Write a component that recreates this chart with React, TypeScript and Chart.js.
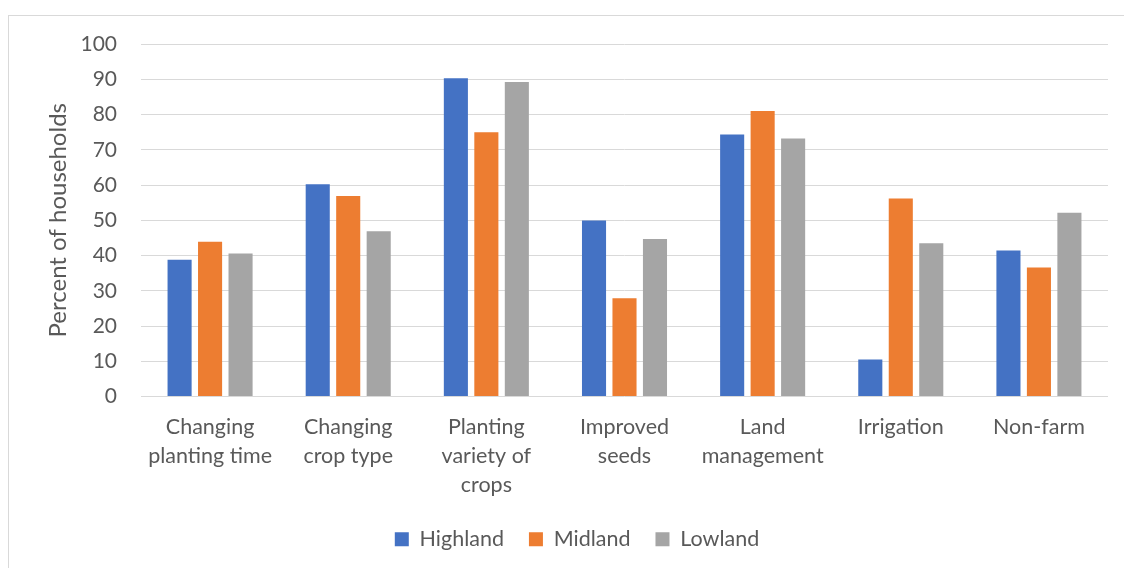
import React, { useEffect, useRef } from "react";
import { Chart, registerables } from "chart.js";

Chart.register(...registerables);

const categories: string[][] = [
  ["Changing", "planting time"],
  ["Changing", "crop type"],
  ["Planting", "variety of", "crops"],
  ["Improved", "seeds"],
  ["Land", "management"],
  ["Irrigation"],
  ["Non-farm"],
];

const highland = [38.8, 60.2, 90.3, 49.9, 74.3, 10.5, 41.4];
const midland = [43.9, 56.9, 75.0, 27.9, 81.0, 56.2, 36.6];
const lowland = [40.6, 46.9, 89.2, 44.7, 73.2, 43.5, 52.1];

const seriesNames = ["Highland", "Midland", "Lowland"];
const yTicks = { min: 0, max: 100, step: 10 };

const FONT = "Lato, 'Open Sans', sans-serif";
const TEXT = "#595959";

export default function App() {
  const ref = useRef<HTMLCanvasElement | null>(null);

  useEffect(() => {
    document.documentElement.style.overflow = "hidden";
    document.body.style.overflow = "hidden";
    document.body.style.marginRight = "0px";
    if (!ref.current) return;
    const chart = new Chart(ref.current, {
      type: "bar",
      data: {
        labels: categories,
        datasets: [
          { label: seriesNames[0], data: highland, backgroundColor: "#4472C4" },
          { label: seriesNames[1], data: midland, backgroundColor: "#ED7D31" },
          { label: seriesNames[2], data: lowland, backgroundColor: "#A5A5A5" },
        ],
      },
      options: {
        responsive: false,
        animation: false,
        maintainAspectRatio: false,
        layout: { padding: { left: 37, right: 16, top: 28, bottom: 0 } },
        datasets: {
          bar: { categoryPercentage: 0.662, barPercentage: 0.79 },
        },
        plugins: {
          tooltip: { enabled: false },
          legend: {
            position: "bottom",
            labels: {
              color: TEXT,
              font: { family: FONT, size: 21.5 },
              boxWidth: 14,
              boxHeight: 14,
              padding: 25,
            },
          },
        },
        scales: {
          x: {
            grid: { display: false, drawTicks: false },
            border: { display: false },
            ticks: {
              color: TEXT,
              font: { family: FONT, size: 21.5, lineHeight: 1.35 },
              padding: 16,
              maxRotation: 0,
              autoSkip: false,
            },
            afterFit: (s: any) => {
              s.height = 107;
            },
          },
          y: {
            min: yTicks.min,
            max: yTicks.max,
            grid: { color: "#d9d9d9", lineWidth: 1, drawTicks: false },
            border: { display: false },
            ticks: {
              stepSize: yTicks.step,
              color: TEXT,
              font: { family: FONT, size: 21 },
              padding: 24,
            },
            title: {
              display: true,
              text: "Percent of households",
              color: TEXT,
              font: { family: FONT, size: 24, lineHeight: 1 },
              padding: { top: 0, bottom: 0 },
            },
            afterFit: (s: any) => {
              s.width = 95;
              s.paddingTop = 12;
              s.paddingBottom = 12;
            },
          },
        },
      },
    });
    return () => chart.destroy();
  }, []);

  return (
    <div
      style={{
        position: "relative",
        top: 7,
        width: 1116,
        height: 562,
        borderTop: "1px solid #d9d9d9",
        borderLeft: "1px solid #d9d9d9",
        boxSizing: "border-box",
        background: "#fff",
      }}
    >
      <canvas ref={ref} width={1115} height={544} style={{ display: "block" }} />
    </div>
  );
}
